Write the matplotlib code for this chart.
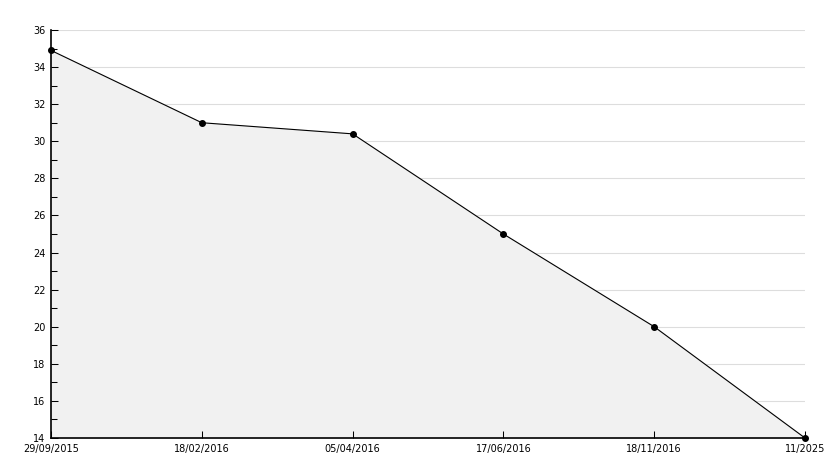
import matplotlib.pyplot as plt
from matplotlib.ticker import MultipleLocator

dates = ["29/09/2015", "18/02/2016", "05/04/2016", "17/06/2016", "18/11/2016", "11/2025"]
values = [34.9, 31.0, 30.4, 25.0, 20.0, 14.0]
y_min, y_max, y_step = 14, 36, 2

plt.rcParams["font.family"] = "DejaVu Sans"
plt.rcParams["font.size"] = 7

fig = plt.figure(figsize=(8.34, 4.68), dpi=100)
ax = fig.add_axes([51 / 834, 30 / 468, 754 / 834, 408 / 468])

x = list(range(len(dates)))
# grid sits under the fill, ticks stay on top
for yv in range(y_min, y_max + 1, y_step):
    ax.axhline(yv, color="#dddddd", linewidth=0.8, zorder=0)
ax.fill_between(x, values, y_min, color="#f1f1f1", zorder=1)
ax.plot(x, values, color="black", linewidth=0.8, marker="o", markersize=4, zorder=3, clip_on=False)

ax.set_xlim(0, len(dates) - 1)
ax.set_ylim(y_min, y_max)
ax.set_xticks(x)
ax.set_xticklabels(dates)
ax.yaxis.set_major_locator(MultipleLocator(y_step))
ax.yaxis.set_minor_locator(MultipleLocator(1))
ax.set_axisbelow(False)

for side in ["top", "right"]:
    ax.spines[side].set_visible(False)
ax.spines["left"].set_linewidth(1.2)
ax.spines["bottom"].set_linewidth(1.2)

ax.tick_params(axis="y", which="major", direction="in", length=5, width=0.75, pad=4, color="black")
ax.tick_params(axis="y", which="minor", direction="in", length=4, width=0.75, color="black")
ax.tick_params(axis="x", direction="in", length=5, width=0.75, pad=4)

fig.savefig("out.png", dpi=100)
